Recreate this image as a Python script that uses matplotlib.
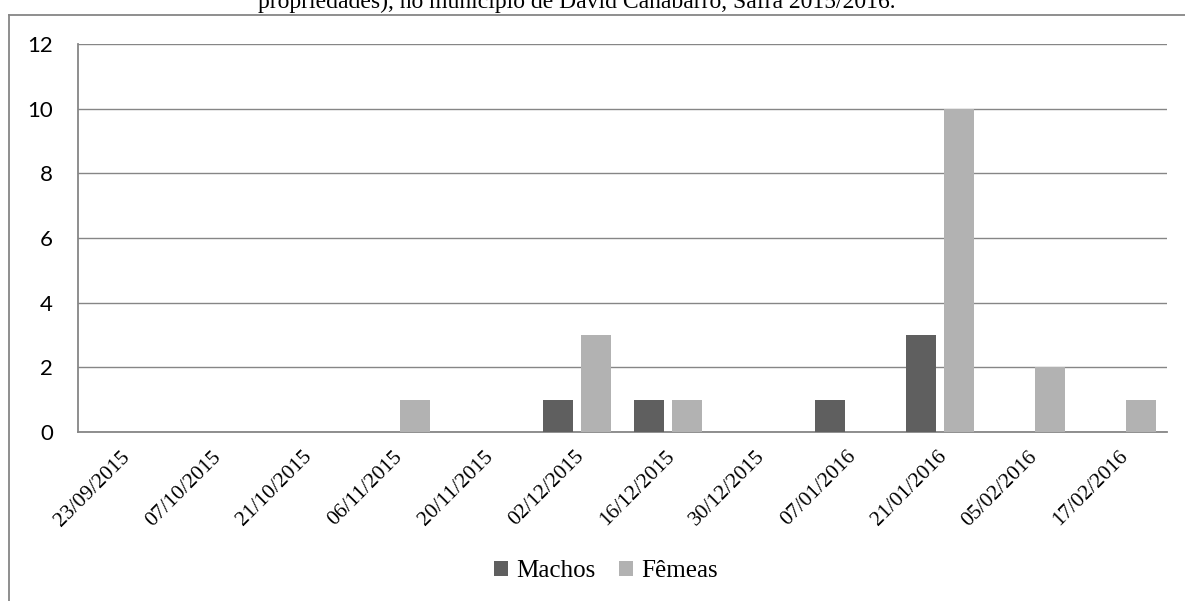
import matplotlib
matplotlib.use("Agg")
import matplotlib.pyplot as plt
from matplotlib.lines import Line2D
import matplotlib.transforms as mtransforms
import numpy as np

# Collection dates and counts per sex
dates = ["23/09/2015", "07/10/2015", "21/10/2015", "06/11/2015", "20/11/2015",
         "02/12/2015", "16/12/2015", "30/12/2015", "07/01/2016", "21/01/2016",
         "05/02/2016", "17/02/2016"]
machos = [0, 0, 0, 0, 0, 1, 1, 0, 1, 3, 0, 0]
femeas = [0, 0, 0, 1, 0, 3, 1, 0, 0, 10, 2, 1]
yticks = [0, 2, 4, 6, 8, 10, 12]

W, H = 1185, 601
fig = plt.figure(figsize=(W / 100, H / 100), dpi=100)
fig.patch.set_facecolor("white")

grid_col = "#868686"
dark = "#5f5f5f"
light = "#b2b2b2"

# Caption line (partially outside the frame)
fig.text(577 / W, 1 - 8 / H,
         "propriedades), no município de David Canabarro, Safra 2015/2016.",
         ha="center", va="baseline", fontsize=17, family="Liberation Serif",
         color="black")

# Chart border (top and left edges)
fig.add_artist(Line2D([9 / W, 1.0], [1 - 15 / H, 1 - 15 / H],
                      transform=fig.transFigure, color=grid_col, lw=1.3))
fig.add_artist(Line2D([9 / W, 9 / W], [0, 1 - 15 / H],
                      transform=fig.transFigure, color=grid_col, lw=1.3))

left, right, top, bottom = 78, 1167, 44, 432
ax = fig.add_axes([left / W, 1 - bottom / H, (right - left) / W, (bottom - top) / H])

x = np.arange(len(dates))
bw = 0.33
off = 0.21
ax.bar(x - off, machos, width=bw, color=dark, label="Machos", zorder=3)
ax.bar(x + off, femeas, width=bw, color=light, label="Fêmeas", zorder=3)

ax.set_xlim(-0.5, len(dates) - 0.5)
ax.set_ylim(0, 12)
ax.set_yticks(yticks)
ax.set_yticklabels([str(v) for v in yticks], family="Lato", fontsize=16)
ax.tick_params(axis="y", length=0, pad=18)
ax.yaxis.grid(True, color=grid_col, lw=1.0)
ax.set_axisbelow(True)

ax.set_xticks(x)
ax.set_xticklabels(dates, rotation=45, ha="right", rotation_mode="anchor",
                   family="Liberation Serif", fontsize=15.5)
ax.tick_params(axis="x", length=0, pad=11)
shift = mtransforms.ScaledTranslation(-3 / 100, 0, fig.dpi_scale_trans)
for lbl in ax.get_xticklabels():
    lbl.set_transform(lbl.get_transform() + shift)

for s in ["top", "right"]:
    ax.spines[s].set_visible(False)
for s in ["left", "bottom"]:
    ax.spines[s].set_color(grid_col)
    ax.spines[s].set_linewidth(1.3)

fig.legend(loc="center", bbox_to_anchor=(606 / W, 1 - 571 / H), ncol=2,
           frameon=False, prop={"family": "Liberation Serif", "size": 18},
           handlelength=0.55, handleheight=0.55, handletextpad=0.33,
           columnspacing=0.95, borderpad=0)

fig.savefig("out.png", dpi=100, facecolor="white")
